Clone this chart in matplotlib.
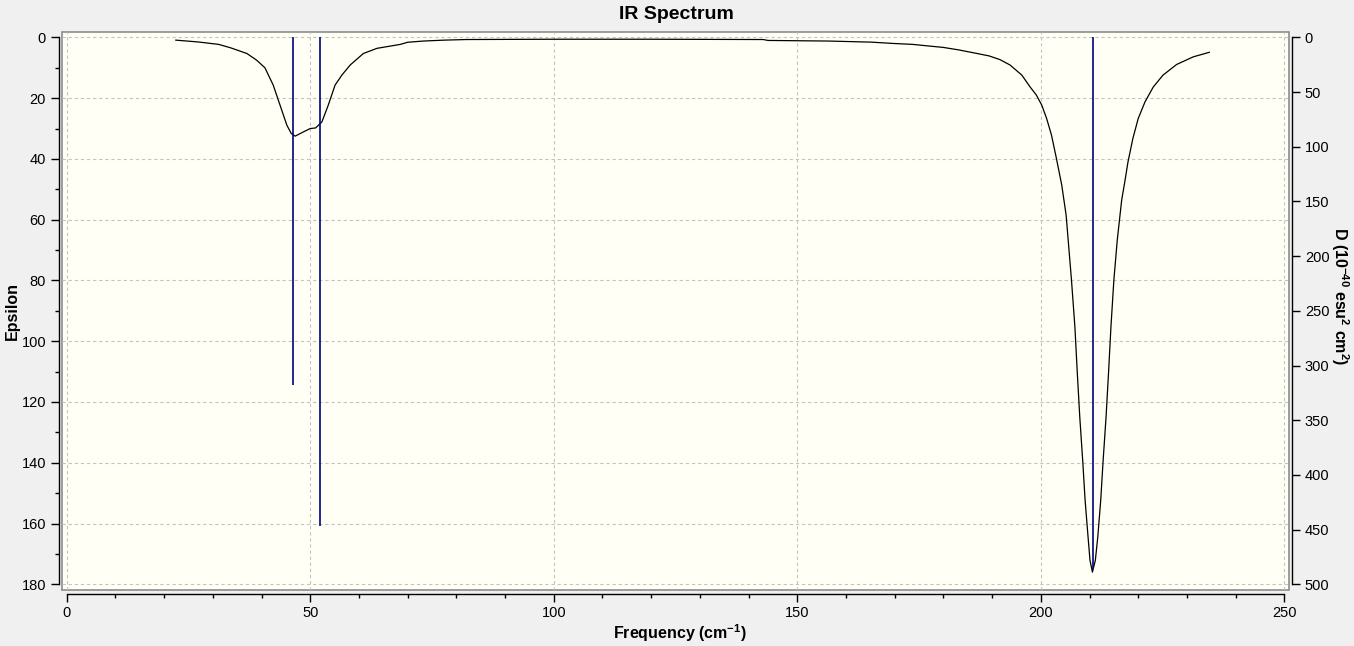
import matplotlib
matplotlib.use("Agg")
import matplotlib.pyplot as plt
from matplotlib.ticker import MultipleLocator

plt.rcParams['font.family'] = ['Liberation Sans', 'DejaVu Sans']
plt.rcParams['mathtext.fontset'] = 'custom'
plt.rcParams['mathtext.rm'] = 'Liberation Sans:bold'
plt.rcParams['mathtext.bf'] = 'Liberation Sans:bold'
plt.rcParams['mathtext.default'] = 'bf'

# ---- data ----
freq = [22.4, 27.0, 31.2, 33.6, 37.0, 39.0, 40.7, 42.4, 43.8, 45.2, 46.1, 46.9,
        48.6, 50.0, 51.1, 52.4, 53.7, 55.1, 56.5, 58.2, 60.9, 63.7, 68.5, 70.0,
        73.2, 77.5, 82.0, 100.0, 120.0, 143.0, 144.0, 156.4, 165.1, 169.8, 173.7,
        176.8, 180.0, 183.1, 186.3, 189.4, 191.6, 193.7, 196.1, 197.8, 199.1,
        200.2, 201.2, 202.2, 203.2, 204.3, 205.2, 206.3, 207.0, 207.5, 208.0,
        208.6, 209.1, 209.7, 210.1, 210.6, 211.2, 211.7, 212.3, 212.8, 213.4,
        213.9, 214.4, 215.0, 215.7, 216.6, 217.3, 217.9, 218.9, 220.0, 221.4,
        223.1, 225.1, 227.9, 231.3, 234.6]
epsilon = [0.9, 1.5, 2.3, 3.4, 5.3, 7.5, 10.0, 15.7, 22.3, 28.9, 31.6, 32.5,
           31.1, 30.0, 29.8, 27.8, 22.3, 15.7, 12.4, 9.1, 5.3, 3.6, 2.3, 1.6,
           1.2, 0.9, 0.7, 0.6, 0.6, 0.7, 1.0, 1.2, 1.55, 2.0, 2.3,
           2.8, 3.3, 4.1, 5.1, 6.1, 7.3, 9.1, 12.4, 16.3, 19.0,
           22.3, 26.7, 32.2, 39.8, 48.6, 58.5, 79.9, 95.3, 110.6, 124.9,
           139.2, 152.4, 164.4, 172.1, 176.0, 172.1, 164.4, 152.4, 139.2, 124.9,
           110.6, 95.3, 79.9, 66.7, 53.6, 47.0, 41.0, 33.3, 26.7, 21.2,
           16.3, 12.4, 8.9, 6.4, 4.9]
stick_freq = [46.4, 52.1, 210.7]
stick_D = [317.4, 447.0, 486.0]

# ---- figure ----
W, H = 1354, 646
fig = plt.figure(figsize=(W / 100, H / 100), dpi=100, facecolor='#F0F0F0')
left, right = 61.5 / W, 1289 / W
bottom, top = 1 - 590.3 / H, 1 - 31.6 / H
ax = fig.add_axes([left, bottom, right - left, top - bottom])
ax.set_facecolor('#FFFFF5')
ax.patch.set_edgecolor('#8C8C8C')
ax.patch.set_linewidth(1.2)

ax2 = ax.twinx()

ax.plot(freq, epsilon, color='black', lw=0.9, zorder=3)
ax2.vlines(stick_freq, 0, stick_D, color='#000080', lw=1.2, zorder=3)

ax.set_xlim(-1.07, 250.96)
ax.set_ylim(181.98, -1.91)
ax2.set_ylim(505.5, -5.3)

ax.xaxis.set_major_locator(MultipleLocator(50))
ax.xaxis.set_minor_locator(MultipleLocator(10))
ax.yaxis.set_major_locator(MultipleLocator(20))
ax.yaxis.set_minor_locator(MultipleLocator(10))
ax2.yaxis.set_major_locator(MultipleLocator(50))

ax.grid(True, which='major', color='#C4C4C4', ls=(0, (3, 2.5)), lw=0.8)
ax.set_axisbelow(True)

for s in ['top', 'right']:
    ax.spines[s].set_visible(False)
for s in ['top', 'left', 'bottom']:
    ax2.spines[s].set_visible(False)
ax.spines['left'].set_position(('outward', 2.1))
ax.spines['bottom'].set_position(('outward', 2.4))
ax2.spines['right'].set_position(('outward', 2.4))
ax.spines['left'].set_bounds(0, 180)
ax.spines['bottom'].set_bounds(0, 250)
ax2.spines['right'].set_bounds(0, 500)
for sp in [ax.spines['left'], ax.spines['bottom'], ax2.spines['right']]:
    sp.set_color('black')
    sp.set_linewidth(1.0)

ax.tick_params(axis='both', which='major', length=6, width=1.0, direction='out',
               labelsize=10.5, pad=3, color='black')
ax.tick_params(axis='both', which='minor', length=3.2, width=1.0, direction='out',
               color='black')
ax2.tick_params(axis='y', which='major', length=5.5, width=1.0, direction='out',
                labelsize=10.5, pad=3.5, color='black')

fig.text(0.4993, 1 - 14.5 / H, 'IR Spectrum', ha='center', va='center',
         fontsize=14, fontweight='bold')
fig.text(12 / W, 1 - 311 / H, 'Epsilon', ha='center', va='center',
         rotation=90, fontsize=11.5, fontweight='bold')
fig.text(680 / W, 1 - 633 / H, r'Frequency (cm$^{-1}$)', ha='center', va='center',
         fontsize=11.5, fontweight='bold')
fig.text(1340 / W, 1 - 296 / H, r'D (10$^{-40}$ esu$^{2}$ cm$^{2}$)', ha='center',
         va='center', rotation=270, fontsize=11.5, fontweight='bold')

fig.savefig('out.png', dpi=100, facecolor=fig.get_facecolor())
